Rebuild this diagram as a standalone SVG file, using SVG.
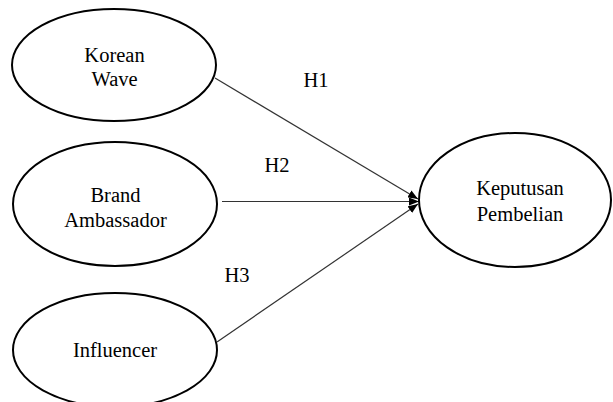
<svg xmlns="http://www.w3.org/2000/svg" width="613" height="402" viewBox="0 0 613 402">
<style>
.node ellipse{fill:#fff;stroke:#000;stroke-width:2}
text{font-family:'Liberation Serif','DejaVu Serif','Times New Roman',serif;font-size:20.5px;fill:#000;text-anchor:middle}
.conn line{stroke:#333;stroke-width:1.2}
</style>
<defs>
<marker id="arr" viewBox="0 0 10 8" refX="10" refY="4" markerWidth="10" markerHeight="8" markerUnits="userSpaceOnUse" orient="auto">
<path d="M0,0 L10,4 L0,8 Z" fill="#000"/>
</marker>
</defs>
<g id="connectors" class="conn">
<line x1="215" y1="78" x2="418" y2="199" marker-end="url(#arr)"/>
<line x1="222" y1="201.5" x2="419" y2="201.5" marker-end="url(#arr)"/>
<line x1="217" y1="342" x2="418" y2="204" marker-end="url(#arr)"/>
<text x="316" y="87" font-family="Liberation Serif, serif">H1</text>
<text x="277" y="172">H2</text>
<text x="237" y="282">H3</text>
</g>
<g id="korean-wave" class="node">
<ellipse cx="114" cy="65" rx="102" ry="56"/>
<text x="114.5" y="62">Korean</text>
<text x="114.5" y="86">Wave</text>
</g>
<g id="brand-ambassador" class="node">
<ellipse cx="115" cy="204" rx="102" ry="62"/>
<text x="115.5" y="202">Brand</text>
<text x="115.5" y="227">Ambassador</text>
</g>
<g id="influencer" class="node">
<ellipse cx="115" cy="350" rx="102" ry="57"/>
<text x="115" y="357">Influencer</text>
</g>
<g id="keputusan-pembelian" class="node">
<ellipse cx="515" cy="200" rx="96" ry="67"/>
<text x="520" y="195">Keputusan</text>
<text x="520" y="221">Pembelian</text>
</g>
</svg>
